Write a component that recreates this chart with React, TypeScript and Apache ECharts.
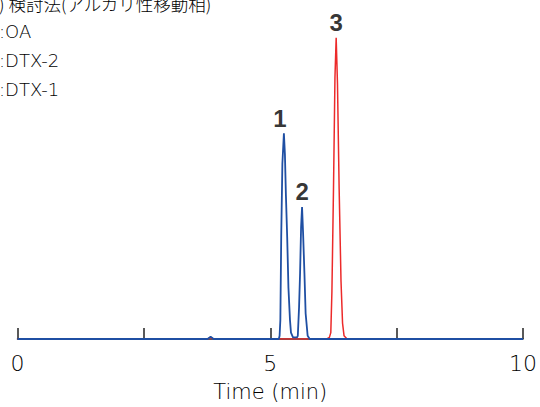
import React, { useEffect, useRef } from "react";
import * as echarts from "echarts";

// Chromatogram traces [time (min), signal]
const redTrace: [number, number][] = [
  [0, 0], [3.76, 0], [3.82, 0.4], [3.88, 0], [6.12, 0], [6.17, 0.5], [6.198, 2], [6.22, 15],
  [6.251, 47], [6.28, 82], [6.304, 94.4], [6.33, 80], [6.363, 47], [6.4, 18], [6.43, 5],
  [6.46, 1], [6.52, 0], [10, 0],
];
const blueTrace: [number, number][] = [
  [0, 0], [3.76, 0], [3.82, 0.7], [3.88, 0], [5.17, 0], [5.185, 1], [5.2, 6], [5.217, 32],
  [5.24, 55], [5.27, 64.5], [5.29, 58], [5.31, 45], [5.335, 32], [5.36, 16], [5.39, 6],
  [5.41, 2], [5.45, 0.5], [5.53, 0.5], [5.545, 1], [5.57, 10], [5.59, 20.7], [5.61, 35],
  [5.629, 41.4], [5.65, 33], [5.676, 20.7], [5.7, 8], [5.74, 1], [5.78, 0], [10, 0],
];
const peakTimes = [5.27, 5.629, 6.304];
const peakHeights = [64.5, 41.4, 94.4];
const peakLabels = ["1", "2", "3"];
const legendLines = [") 検討法(アルカリ性移動相)", ":OA", ":DTX-2", ":DTX-1"];
const xTicks = { min: 0, max: 10, interval: 2.5 };
const xName = "Time (min)";

const BLUE = "#1f4fa3";
const RED = "#ec2a2a";
const LATIN = "'DejaVu Sans', 'Noto Sans CJK JP', sans-serif";
const CJK = "'Noto Sans CJK JP', 'Noto Sans', sans-serif";

export default function App() {
  const ref = useRef<HTMLDivElement>(null);
  useEffect(() => {
    if (!ref.current) return;
    const chart = echarts.init(ref.current, null, { renderer: "svg" });
    const legendTop = [-5, 22, 51, 80];
    chart.setOption({
      animation: false,
      backgroundColor: "#ffffff",
      grid: { left: 17.5, right: 13, top: 20, bottom: 63 },
      xAxis: {
        type: "value",
        min: xTicks.min,
        max: xTicks.max,
        interval: xTicks.interval,
        name: xName,
        nameLocation: "middle",
        nameGap: 42,
        nameTextStyle: { fontFamily: LATIN, fontSize: 21, fontWeight: 200, color: "#000" },
        axisLine: { lineStyle: { color: "#222", width: 1.5 } },
        axisTick: { inside: true, length: 11, lineStyle: { color: "#222", width: 1.5 } },
        axisLabel: {
          fontFamily: LATIN,
          fontSize: 22,
          fontWeight: 200,
          color: "#000",
          margin: 13,
          formatter: (v: number) => (v % 5 === 0 ? String(v) : ""),
        },
        splitLine: { show: false },
      },
      yAxis: {
        type: "value",
        min: 0,
        max: 100,
        show: false,
      },
      series: [
        {
          type: "line",
          data: redTrace,
          showSymbol: false,
          lineStyle: { color: RED, width: 1.5 },
          z: 2,
        },
        {
          type: "line",
          data: blueTrace,
          showSymbol: false,
          lineStyle: { color: BLUE, width: 1.8 },
          z: 3,
        },
        {
          type: "scatter",
          symbolSize: 0,
          data: peakTimes.map((t, i) => ({
            value: [t, peakHeights[i]],
            label: {
              show: true,
              formatter: peakLabels[i],
              position: "top",
              distance: 3,
              offset: [i === 0 ? -4 : 0, 0],
              fontFamily: "'Liberation Sans Narrow', 'Liberation Sans', sans-serif",
              fontWeight: "bold",
              fontSize: 24,
              color: "#000",
            },
          })),
          z: 4,
        },
      ],
      graphic: legendLines.map((t, i) => ({
        type: "text",
        left: -1,
        top: legendTop[i],
        style: {
          text: t,
          fontFamily: i === 0 ? CJK : LATIN,
          fontSize: i === 0 ? 17.5 : 18,
          fontWeight: i === 0 ? 300 : 200,
          fill: "#000",
        },
      })),
    });
    return () => chart.dispose();
  }, []);
  return (
    <div
      ref={ref}
      style={{ position: "fixed", left: 0, top: 0, width: 540, height: 407 }}
    />
  );
}
